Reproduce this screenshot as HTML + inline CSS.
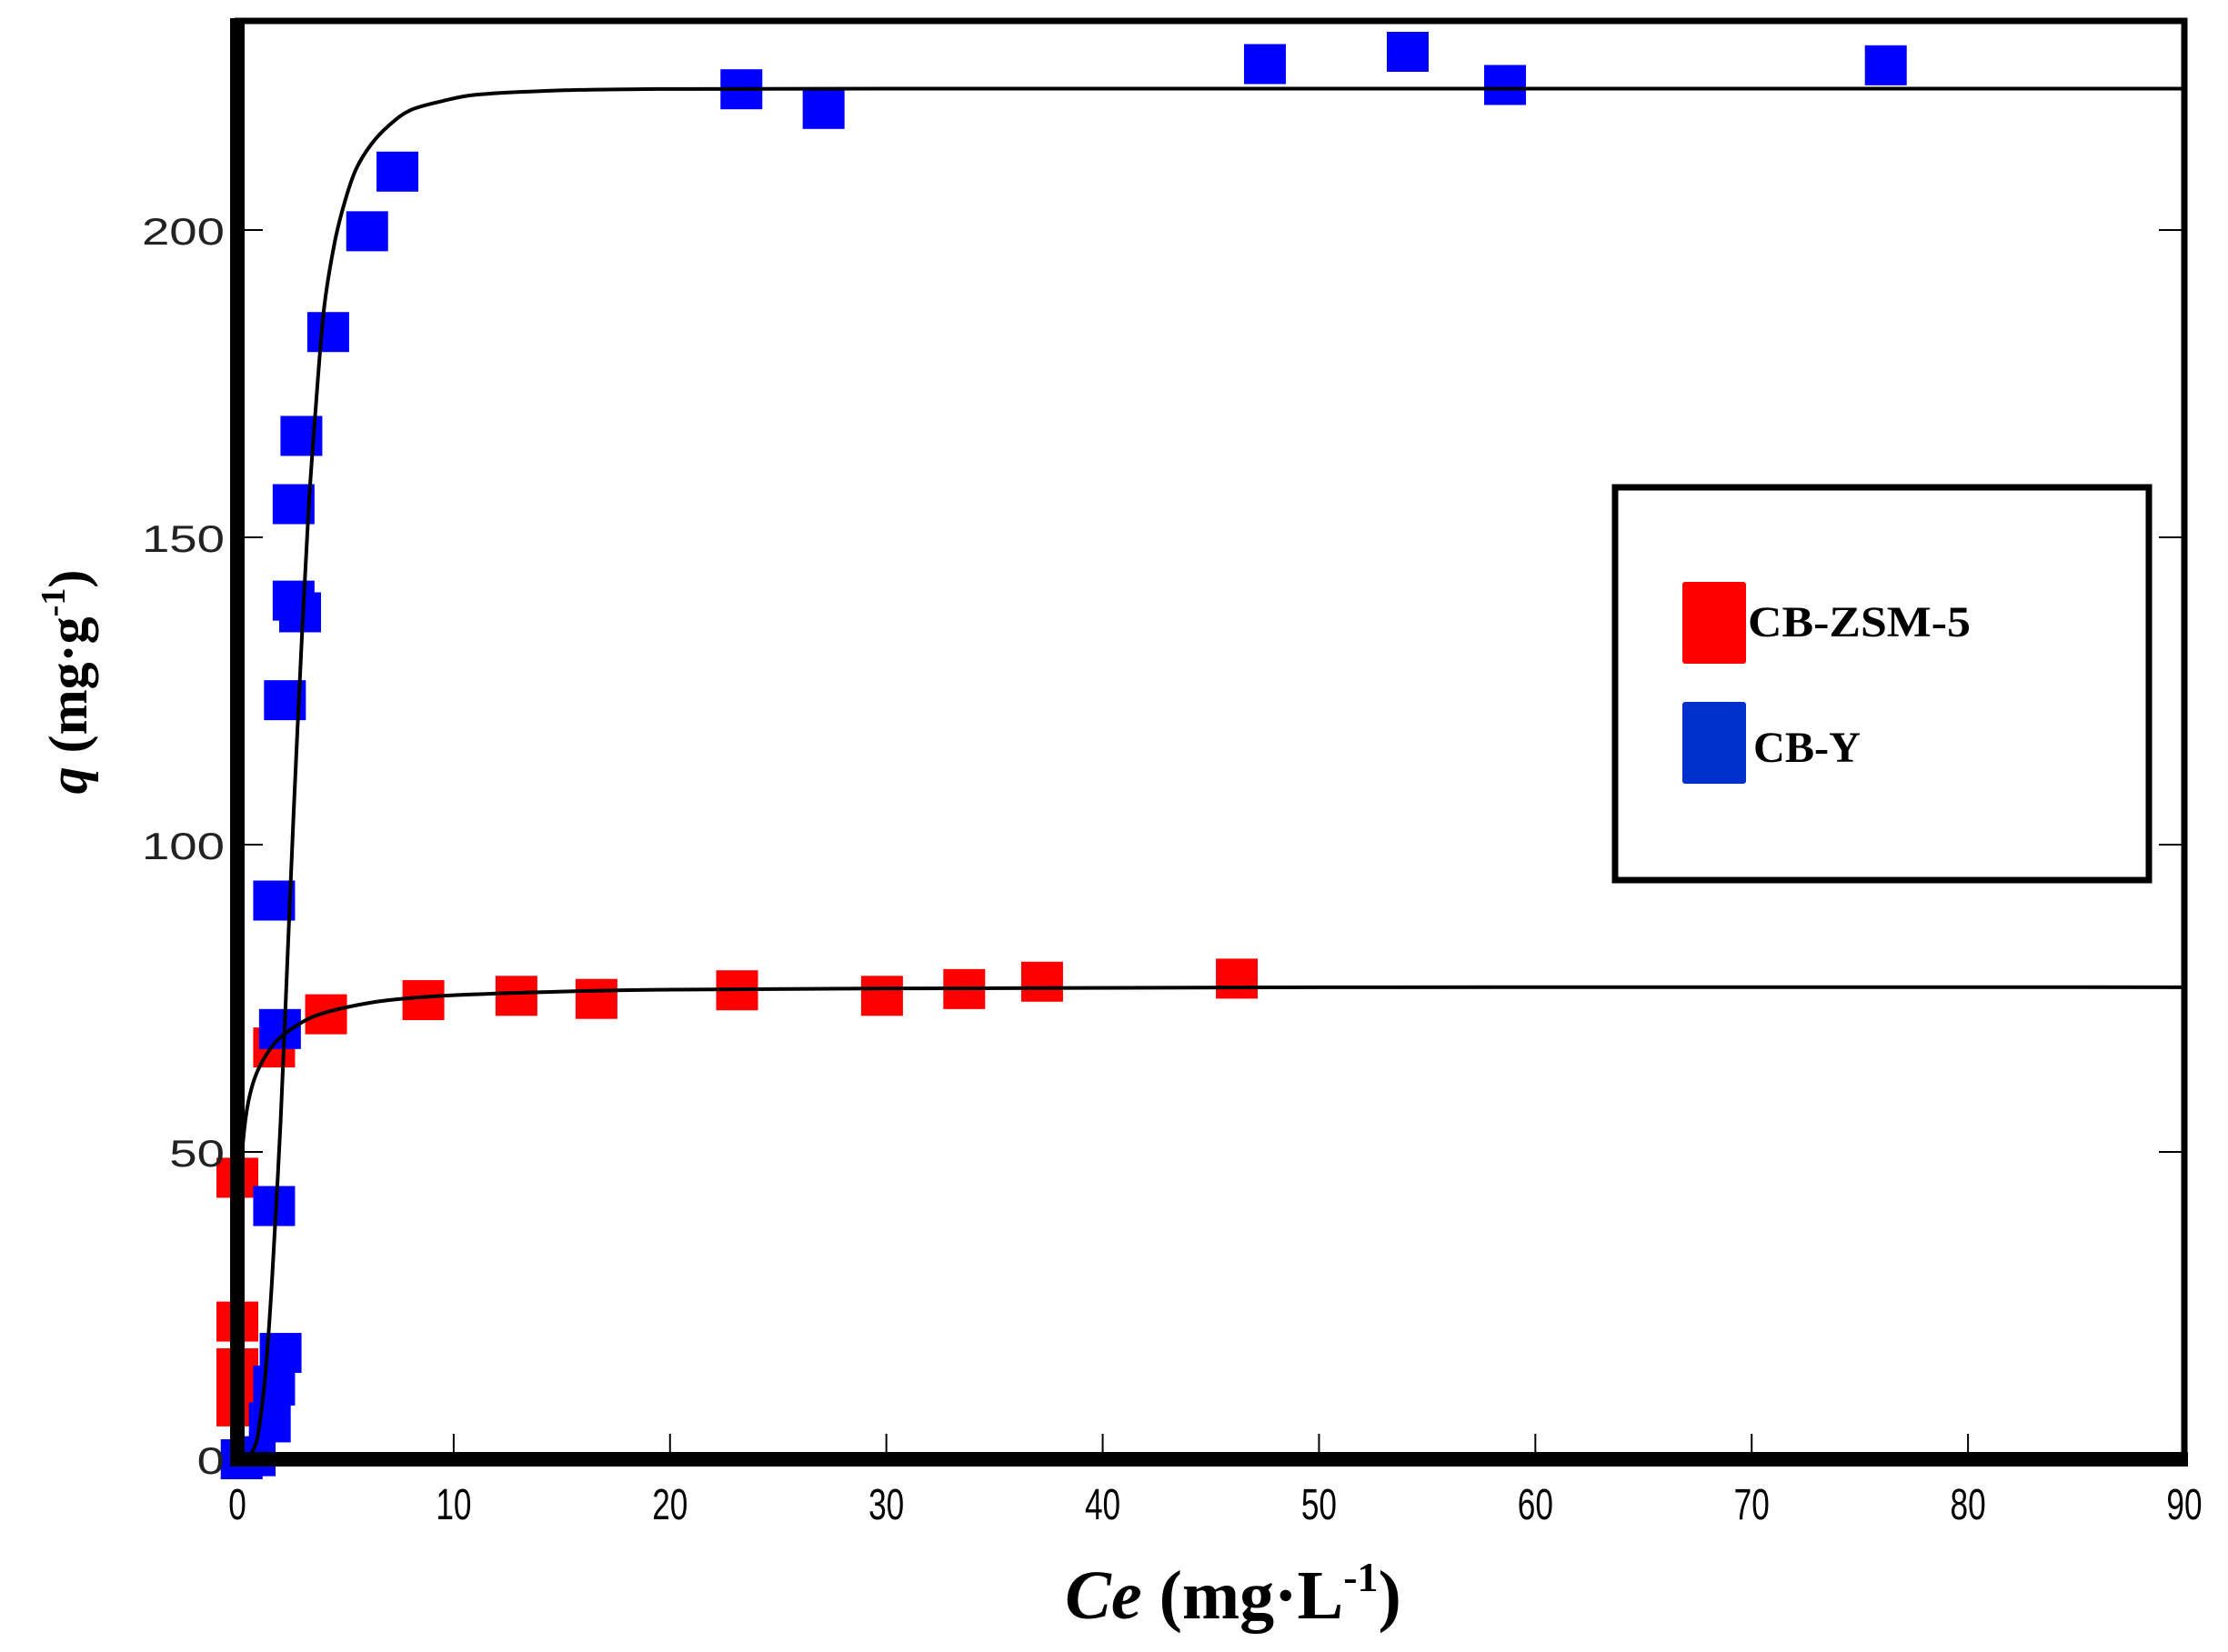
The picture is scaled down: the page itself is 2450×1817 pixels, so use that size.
<!DOCTYPE html>
<html><head><meta charset="utf-8"><style>
html,body{margin:0;padding:0;background:#fff;}
svg{display:block;}
</style></head><body>
<svg id="chart" width="2450" height="1817" viewBox="0 0 2450 1817" xmlns="http://www.w3.org/2000/svg">
<g id="marks"></g>
<g id="axes"></g>
<g>
  <rect x="1776" y="536" width="587" height="432" fill="#fff" stroke="#000" stroke-width="7"/>
  <rect x="1850" y="640" width="70" height="90" rx="3" fill="#ff0000"/>
  <text x="1922" y="700" font-family="Liberation Serif, serif" font-weight="bold" font-size="48" textLength="245" lengthAdjust="spacingAndGlyphs">CB-ZSM-5</text>
  <rect x="1850" y="772" width="70" height="90" rx="3" fill="#0030cc"/>
  <text x="1928" y="838" font-family="Liberation Serif, serif" font-weight="bold" font-size="48" textLength="118" lengthAdjust="spacingAndGlyphs">CB-Y</text>
</g>
<text transform="translate(95,750) rotate(-90)" text-anchor="middle" font-family="Liberation Serif, serif" font-weight="bold" font-size="60"><tspan font-style="italic">q</tspan> (mg·g<tspan font-size="38" dy="-24">-1</tspan><tspan dy="24">)</tspan></text>
<text x="1356" y="1780" text-anchor="middle" font-family="Liberation Serif, serif" font-weight="bold" font-size="76"><tspan font-style="italic">Ce</tspan> (mg·L<tspan font-size="46" dy="-30">-1</tspan><tspan dy="30">)</tspan></text>
</svg>
<script>
const xTicks=[0,10,20,30,40,50,60,70,80,90];
const yTicks=[0,50,100,150,200];
const redX=[0,0,0,0,1.7,4.1,8.6,12.9,16.6,23.1,29.8,33.6,37.2,46.2];
const redY=[45.8,22.4,14.8,8.6,67,72.4,74.7,75.4,74.9,76.3,75.4,76.5,77.7,78.2];
const blueX=[23.3,27.1,47.5,54.1,58.6,76.2,6.0,7.4,4.2,2.96,2.6,2.6,2.9,2.2,1.7,1.97,1.7,2.0,1.7,1.5,0.2,0.8];
const blueY=[222.9,219.7,227,229,223.6,226.8,199.8,209.5,183.4,166.5,155.4,139.7,137.8,123.5,90.9,70,41.2,17.3,12,6,0,0.5];
const redFitX=[0,0.03,0.08,0.15,0.3,0.5,0.8,1.2,1.8,2.5,3.5,5,7,10,15,20,30,50,90];
const redFitY=[0,25,38,46,53,58,62,65,68,70,72,73.5,74.7,75.5,76.1,76.4,76.6,76.8,76.8];
const blueFitX=[0,0.5,0.8,1,1.3,1.6,2,2.3,2.6,3,3.3,3.6,4,4.5,5,5.5,6.2,7,8,9.5,11,14,18,30,90];
const blueFitY=[0,0.5,2,5,14,29,55,80,105,135,155,170,187,198,205,210,214,217,219.5,221,222,222.6,222.9,223,223];

const X0=261,X1=2402,Y0=1605,YT=253;
const sx=v=>X0+(X1-X0)*v/90;
const sy=v=>Y0-(Y0-YT)*v/200;
const NS='http://www.w3.org/2000/svg';
const marks=document.getElementById('marks');
const axes=document.getElementById('axes');
function mk(tag,attrs,parent){const e=document.createElementNS(NS,tag);for(const k in attrs)e.setAttribute(k,attrs[k]);parent.appendChild(e);return e;}

redX.forEach((x,i)=>{
  const r=mk('rect',{x:sx(x)-23,y:sy(redY[i])-22,width:46,height:44,fill:'#ff0000'},marks);
  
  
});
blueX.forEach((x,i)=>{
  const r=mk('rect',{x:sx(x)-23,y:sy(blueY[i])-22,width:46,height:44,fill:'#0000ff'},marks);
  
  
});
function line(xs,ys,name){
  const pts=xs.map((x,i)=>[sx(x),sy(ys[i])]);
  let d='M'+pts[0][0]+','+pts[0][1];
  for(let i=0;i<pts.length-1;i++){
    const p0=pts[Math.max(0,i-1)],p1=pts[i],p2=pts[i+1],p3=pts[Math.min(pts.length-1,i+2)];
    const c1=[p1[0]+(p2[0]-p0[0])/6,p1[1]+(p2[1]-p0[1])/6];
    const c2=[p2[0]-(p3[0]-p1[0])/6,p2[1]-(p3[1]-p1[1])/6];
    d+=` C${c1[0]},${c1[1]} ${c2[0]},${c2[1]} ${p2[0]},${p2[1]}`;
  }
  const p=mk('path',{d:d,fill:'none',stroke:'#000','stroke-width':4,'stroke-linejoin':'round'},marks);
  
  
}
line(redFitX,redFitY,'cb-zsm-5-fit-line');
line(blueFitX,blueFitY,'cb-y-fit-line');

let f=mk('rect',{x:X0,y:23,width:X1-X0,height:Y0-23,fill:'none',stroke:'#000','stroke-width':7},axes);


let la=mk('line',{x1:X0,y1:20,x2:X0,y2:Y0+8,stroke:'#000','stroke-width':16},axes);


let ba=mk('line',{x1:X0-8,y1:Y0,x2:X1+4,y2:Y0,stroke:'#000','stroke-width':16},axes);



xTicks.forEach(v=>{
  const t=mk('line',{x1:sx(v),y1:Y0,x2:sx(v),y2:Y0-28,stroke:'#000','stroke-width':2},axes);
  
  
  const l=mk('text',{x:sx(v),y:Y0+66,'text-anchor':'middle','font-family':'Liberation Sans, sans-serif','font-size':44},axes);
  l.setAttribute('transform',`translate(${sx(v)*0.2},${-(Y0+66)*0.1}) scale(0.8,1.1)`);
  l.textContent=v;
  
  
});
yTicks.forEach(v=>{
  const t=mk('line',{x1:X0,y1:sy(v),x2:X0+28,y2:sy(v),stroke:'#000','stroke-width':2},axes);
  
  
  const t2=mk('line',{x1:X1,y1:sy(v),x2:X1-28,y2:sy(v),stroke:'#000','stroke-width':2},axes);
  
  
  const l=mk('text',{x:X0-14,y:sy(v)+16,'text-anchor':'end','font-family':'Liberation Sans, sans-serif','font-size':42,fill:'#222'},axes);
  l.setAttribute('transform',`translate(${-(X0-14)*0.3},0) scale(1.3,1)`);
  l.textContent=v;
  
  
});
</script>
</body></html>
